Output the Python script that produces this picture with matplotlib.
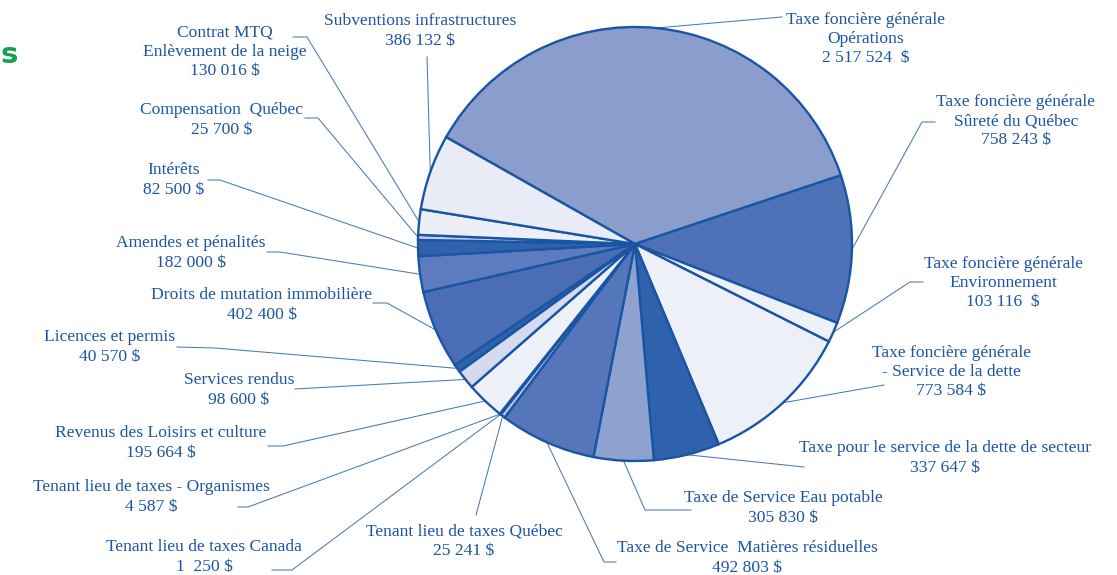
import matplotlib
matplotlib.use("Agg")
import matplotlib.pyplot as plt
import numpy as np

W, H = 1117, 575

categories = [
    "Taxe foncière générale\nOpérations\n2 517 524  $",
    "Taxe foncière générale\nSûreté du Québec\n758 243 $",
    "Taxe foncière générale\nEnvironnement\n103 116  $",
    "Taxe foncière générale\n- Service de la dette\n773 584 $",
    "Taxe pour le service de la dette de secteur\n337 647 $",
    "Taxe de Service Eau potable\n305 830 $",
    "Taxe de Service  Matières résiduelles\n492 803 $",
    "Tenant lieu de taxes Québec\n25 241 $",
    "Tenant lieu de taxes Canada\n1  250 $",
    "Tenant lieu de taxes - Organismes\n4 587 $",
    "Revenus des Loisirs et culture\n195 664 $",
    "Services rendus\n98 600 $",
    "Licences et permis\n40 570 $",
    "Droits de mutation immobilière\n402 400 $",
    "Amendes et pénalités\n182 000 $",
    "Intérêts\n82 500 $",
    "Compensation  Québec\n25 700 $",
    "Contrat MTQ\nEnlèvement de la neige\n130 016 $",
    "Subventions infrastructures\n386 132 $",
]
values = [2517524, 758243, 103116, 773584, 337647, 305830, 492803,
          25241, 1250, 4587, 195664, 98600, 40570, 402400, 182000,
          82500, 25700, 130016, 386132]

colors = ["#8a9dcd", "#4f71b7", "#eef1f8", "#edf0f8", "#2e62ad", "#8fa1cf",
          "#5576bb", "#bcc6e3", "#c8d0e8", "#c8d0e8", "#eef1f8", "#d5dbee",
          "#2e62ad", "#4a6db6", "#5c7cbf", "#2e62ad", "#c8d0e8", "#eceff8",
          "#e9ecf6"]

# label text centres (pixel coords, y from top)
label_pos = [(866, 39), (1016, 121), (1003, 283), (951, 372), (945, 458),
             (783, 508), (747, 558), (464, 541), (204, 557), (151, 497),
             (161, 443), (239, 390), (110, 347), (262, 305), (191, 253),
             (174, 180), (222, 120), (225, 52), (420, 31)]
# leader line waypoints (pixel coords, from label side toward the pie)
leader_pts = [
    [(782, 17)],
    [(935, 122), (922, 122)],
    [(923, 282), (910, 282)],
    [(884, 385)],
    [(804, 467)],
    [(691, 510), (645, 510)],
    [(616, 562), (604, 562)],
    [(476, 515)],
    [(272, 570), (292, 570)],
    [(238, 507), (248, 507)],
    [(268, 446), (283, 446)],
    [(295, 389)],
    [(177, 347), (215, 348)],
    [(373, 303), (387, 303)],
    [(267, 252), (280, 252)],
    [(208, 180), (220, 180)],
    [(305, 118), (318, 118)],
    [(293, 37), (307, 37)],
    [(427, 57)],
]

center_px = (635, 244)
radius = 217
start_angle = 150.5

blue = "#1a55a4"
text_blue = "#1c55a6"

fig = plt.figure(figsize=(W / 100, H / 100), dpi=100)
ax = fig.add_axes([0, 0, 1, 1])
cx, cy = center_px[0], H - center_px[1]
wedges, _ = ax.pie(values, colors=colors, startangle=start_angle,
                   counterclock=False, radius=radius, center=(cx, cy),
                   wedgeprops=dict(edgecolor=blue, linewidth=1.7))
ax.set_xlim(0, W)
ax.set_ylim(0, H)
ax.set_aspect("equal")
ax.axis("off")

for w, lab, (lx, ly), pts in zip(wedges, categories, label_pos, leader_pts):
    mid = np.deg2rad((w.theta1 + w.theta2) / 2)
    ex, ey = cx + radius * np.cos(mid), cy + radius * np.sin(mid)
    xs = [p[0] for p in pts] + [ex]
    ys = [H - p[1] for p in pts] + [ey]
    ax.plot(xs, ys, color="#4a78bb", lw=0.75, zorder=0.5)
    ax.text(lx, H - ly, lab, ha="center", va="center", color=text_blue,
            fontsize=12.6, family="Liberation Serif", linespacing=1.26)

ax.text(0, H - 55, "s", ha="left", va="center", color="#14a050",
        fontsize=21, fontweight="bold", family="DejaVu Sans")

fig.savefig("out.png", dpi=100)
